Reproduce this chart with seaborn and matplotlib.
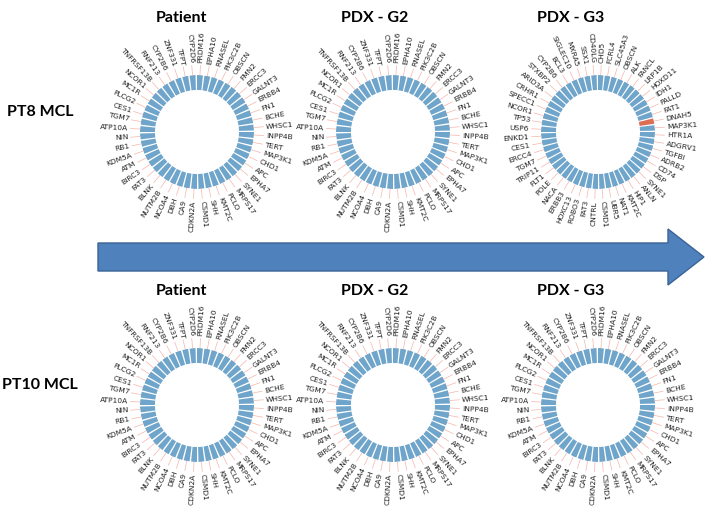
import numpy as np
import pandas as pd
import seaborn as sns
import matplotlib.pyplot as plt
from matplotlib.patches import Polygon

# gene panels (clockwise from the top)
genes_base = ['CYP2D6', 'PRDM16', 'EPHA10', 'RNASEL', 'PIK3C2B', 'OBSCN', 'FMN2', 'ERCC3',
              'GALNT3', 'ERBB4', 'FN1', 'BCHE', 'WHSC1', 'INPP4B', 'TERT', 'MAP3K1', 'CHD1',
              'APC', 'EPHA7', 'SYNE1', 'MRPS17', 'PCLO', 'KMT2C', 'SHH', 'CSMD1', 'CDKN2A',
              'CA9', 'DBH', 'NCOA4', 'NUTM2B', 'BLNK', 'FAT3', 'BIRC3', 'ATM', 'KDM5A', 'RB1',
              'NIN', 'ATP10A', 'TGM7', 'CES1', 'PLCG2', 'MC1R', 'NCOR1', 'TNFRSF13B', 'RNF213',
              'CYP2B6', 'ZNF331', 'TFPT']
genes_g3 = ['CD40LG', 'CHD5', 'FCRL4', 'SLC45A3', 'OBSCN', 'ALK', 'FANCL', 'LRP1B', 'HOXD11',
            'IDH1', 'PALLD', 'FAT1', 'DNAH5', 'MAP3K1', 'HTR1A', 'ADGRV1', 'TGFBI', 'ADRB2',
            'CD74', 'DSP', 'SYNE1', 'ANLN', 'HIP1', 'KMT2C', 'NAT1', 'UBR5', 'CSMD1', 'CNTRL',
            'FAT3', 'ROBO3', 'HOXC13', 'ERBB3', 'NACA', 'POLE', 'FLT1', 'TRIP11', 'TGM7',
            'ERCC4', 'CES1', 'ENKD1', 'USP6', 'TP53', 'NCOR1', 'SPECC1', 'CRHR1', 'ARID3A',
            'STXBP2', 'CYP2B6', 'BCL3', 'SIGLEC10', 'MXRA5', 'SSX1']
mutated_g3 = ['DNAH5']

samples = ['Patient', 'PDX - G2', 'PDX - G3']
rows = ['PT8 MCL', 'PT10 MCL']
panels = {'PT8 MCL': [(genes_base, []), (genes_base, []), (genes_g3, mutated_g3)],
          'PT10 MCL': [(genes_base, []), (genes_base, []), (genes_base, [])]}

W, H = 707, 516
sns.set_style('white')
fig = plt.figure(figsize=(W / 100, H / 100), dpi=100)

bg = fig.add_axes([0, 0, 1, 1], zorder=0)
bg.set_xlim(0, W)
bg.set_ylim(H, 0)
bg.axis('off')

# big arrow
arrow = Polygon([(98, 243), (668, 243), (668, 229), (704, 257), (668, 285), (668, 271), (98, 271)],
                closed=True, facecolor='#4f81bd', edgecolor='#3a6396', lw=1)
bg.add_patch(arrow)

title_font = dict(family='Lato', fontweight='bold', fontsize=11.5, color='black')
title_x = [181, 375, 571]
circle_x = [197, 393, 598]
row_y = [132, 405]
title_y = [18, 291]
R = 57

pal = {'wt': '#60a8da', 'mut': '#f2603e'}

for ri, row in enumerate(rows):
    bg.text(40, title_y[ri] + 94, row, ha='center', va='center', **title_font)
    for ci in range(3):
        bg.text(title_x[ci], title_y[ri], samples[ci], ha='center', va='center', **title_font)
        genes, mutated = panels[row][ci]
        n = len(genes)
        step = 2 * np.pi / n
        theta = (np.arange(n) - 0.6) * step
        df = pd.DataFrame({'theta': theta, 'h': 0.263,
                           'status': ['mut' if g in mutated else 'wt' for g in genes]})
        cx, cy = circle_x[ci], row_y[ri]
        ax = fig.add_axes([(cx - R) / W, 1 - (cy + R) / H, 2 * R / W, 2 * R / H],
                          projection='polar', zorder=2)
        ax.set_theta_zero_location('N')
        ax.set_theta_direction(-1)
        sns.barplot(data=df, x='theta', y='h', hue='status', palette=pal, native_scale=True,
                    dodge=False, width=0.8, bottom=0.737, errorbar=None, legend=False,
                    linewidth=0, ax=ax)
        for t, g in zip(theta, genes):
            ax.plot([t, t], [1.0, 1.17], color='#f6b4ab', lw=0.5, clip_on=False)
            deg = np.degrees(t) % 360
            if deg < 180:
                rot, ha = 90 - deg, 'left'
            else:
                rot, ha = 270 - deg, 'right'
            ax.text(t, 1.21, g, rotation=rot, rotation_mode='anchor', ha=ha, va='center',
                    fontsize=5.4, color='#222222', clip_on=False)
        ax.set_xlim(0, 2 * np.pi)
        ax.set_ylim(0, 1)
        ax.set_axis_off()

fig.savefig('out.png', dpi=100)
